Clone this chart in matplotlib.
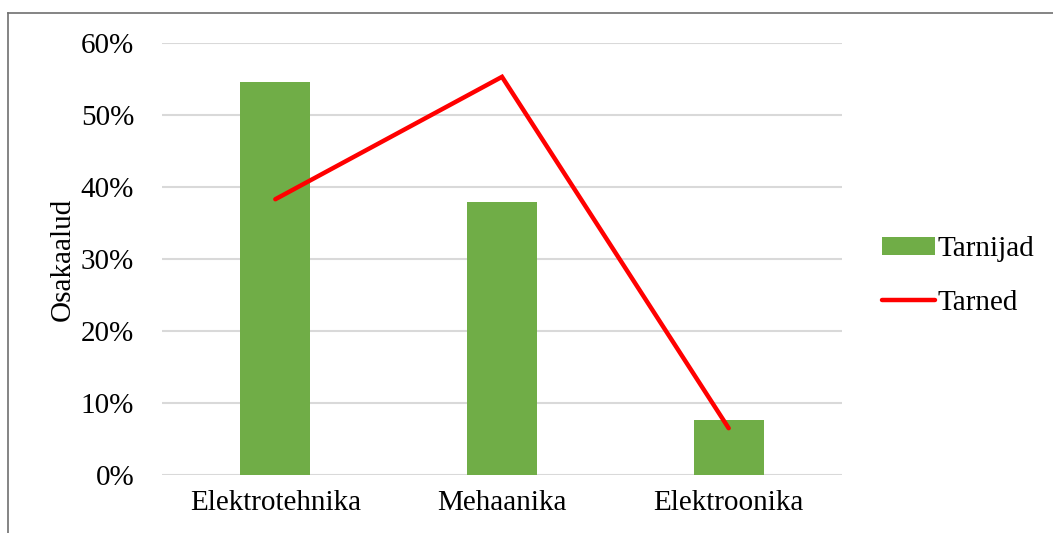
import numpy as np
import matplotlib.pyplot as plt
from matplotlib.lines import Line2D
from matplotlib.ticker import PercentFormatter

plt.rcParams['font.family'] = ['Liberation Serif', 'DejaVu Serif']

categories = ['Elektrotehnika', 'Mehaanika', 'Elektroonika']
tarnijad = [0.546, 0.379, 0.076]
tarned = [0.383, 0.553, 0.065]

W, H = 1053, 533
fig = plt.figure(figsize=(W / 100, H / 100), dpi=100)
ax = fig.add_axes([162 / W, 1 - 475 / H, 680 / W, 432 / H])

x = np.arange(len(categories))
bars = ax.bar(x, tarnijad, width=0.31, color='#70ad47', label='Tarnijad', zorder=2)
line, = ax.plot(x, tarned, color='#ff0000', lw=3.2, solid_capstyle='round',
                solid_joinstyle='miter', label='Tarned', zorder=3)

ax.set_xlim(-0.5, 2.5)
ax.set_ylim(0, 0.6)
ax.set_yticks(np.arange(0, 0.61, 0.1))
ax.yaxis.set_major_formatter(PercentFormatter(1.0, decimals=0))
ax.set_xticks(x)
ax.set_xticklabels(categories)
ax.grid(axis='y', color='#d9d9d9', lw=1.5, zorder=0)
for s in ax.spines.values():
    s.set_visible(False)
ax.tick_params(length=0, labelsize=21, colors='black')
ax.tick_params(axis='y', pad=20)
ax.tick_params(axis='x', pad=11)
ax.set_ylabel('Osakaalud', fontsize=21, labelpad=4)

ax.legend([bars, line], ['Tarnijad', 'Tarned'], loc='center left',
          bbox_to_anchor=(882 / W, 1 - 276 / H),
          bbox_transform=fig.transFigure, frameon=False, fontsize=21,
          borderpad=0, borderaxespad=0,
          handlelength=1.8, handleheight=0.55, handletextpad=0.12,
          labelspacing=0.95)

# outer frame
fig.add_artist(Line2D([8 / W, 8 / W], [0, 1 - 13 / H], transform=fig.transFigure,
                      color='#707070', lw=1.2))
fig.add_artist(Line2D([8 / W, 1], [1 - 13 / H, 1 - 13 / H], transform=fig.transFigure,
                      color='#707070', lw=1.2))

fig.savefig('out.png', dpi=100)
